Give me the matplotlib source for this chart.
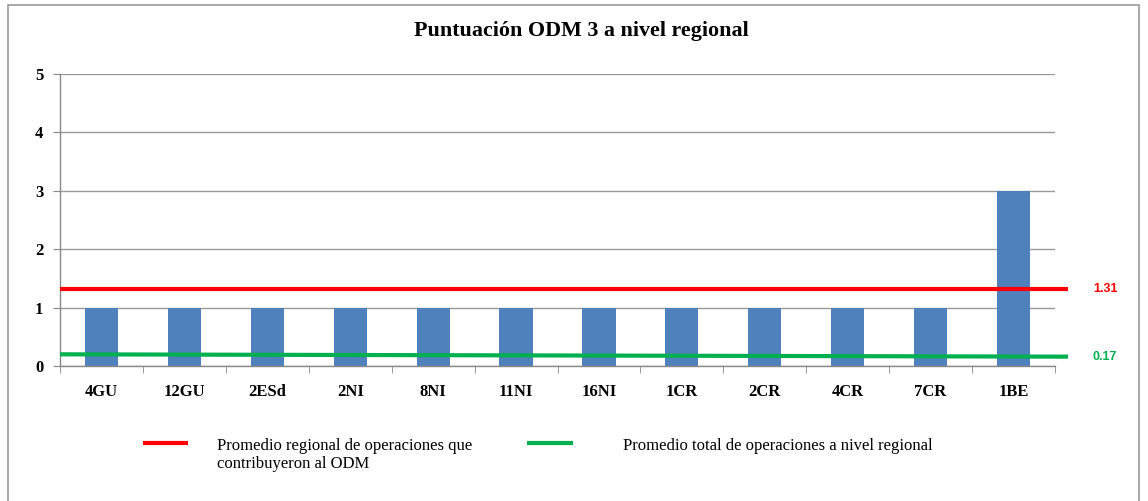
import matplotlib
matplotlib.use("Agg")
import matplotlib.pyplot as plt
import numpy as np
from matplotlib.patches import Rectangle
from matplotlib.lines import Line2D

categories = ["4GU", "12GU", "2ESd", "2NI", "8NI", "11NI", "16NI", "1CR", "2CR", "4CR", "7CR", "1BE"]
scores = [1, 1, 1, 1, 1, 1, 1, 1, 1, 1, 1, 3]
regional_avg = 1.31
total_avg_ends = [0.20, 0.16]
total_avg_label = "0.17"
title = "Puntuación ODM 3 a nivel regional"
legend_labels = ["Promedio regional de operaciones que\ncontribuyeron al ODM",
                 "Promedio total de operaciones a nivel regional"]

serif = ["Liberation Serif", "DejaVu Serif"]
sans = ["Liberation Sans", "DejaVu Sans"]

fig = plt.figure(figsize=(11.48, 5.01), dpi=100)
W, H = 1148, 501
ax = fig.add_axes([60 / W, 1 - 366 / H, (1055 - 60) / W, (366 - 74) / H])

x = np.arange(len(categories))
ax.bar(x, scores, width=0.4, color="#4F81BD", zorder=2)
ax.set_xlim(-0.5, len(categories) - 0.5)
ax.set_ylim(0, 5)
ax.set_yticks(range(6))
ax.set_yticklabels([str(i) for i in range(6)], fontfamily=serif, fontweight="bold", fontsize=12)
ax.set_xticks(x)
ax.set_xticklabels(categories, fontfamily=serif, fontweight="bold", fontsize=12)
ax.set_xticks(np.arange(-0.5, len(categories)), minor=True)
ax.tick_params(axis="x", which="major", length=0, pad=13)
ax.tick_params(axis="x", which="minor", length=5, color="#888888", direction="out")
ax.tick_params(axis="y", length=5, color="#888888", pad=7)
ax.grid(axis="y", color="#9a9a9a", linewidth=1, zorder=0)
ax.set_axisbelow(True)
for s in ["top", "right"]:
    ax.spines[s].set_visible(False)
for s in ["left", "bottom"]:
    ax.spines[s].set_color("#888888")
    ax.spines[s].set_linewidth(1)

xend = len(categories) - 0.5 + 13 / ((1055 - 60) / len(categories))
ax.plot([-0.5, xend], [regional_avg, regional_avg], color="#FF0000", linewidth=3, clip_on=False,
        zorder=3, solid_capstyle="butt")
ax.plot([-0.5, xend], total_avg_ends, color="#00B050", linewidth=3, clip_on=False, zorder=3,
        solid_capstyle="butt")
ax.text(xend + 0.3, regional_avg, f"{regional_avg:.2f}", color="#FF0000", fontweight="bold",
        fontfamily=sans, fontsize=9, va="center", ha="left")
ax.text(xend + 0.3, total_avg_ends[1], total_avg_label, color="#00B050", fontweight="bold",
        fontsize=9, fontfamily=sans, va="center", ha="left")

fig.text(581 / W, 1 - 31 / H, title, ha="center", va="center", fontfamily=serif,
         fontweight="bold", fontsize=15.8)

# legend
fig.add_artist(Line2D([143 / W, 188 / W], [1 - 443 / H] * 2, color="#FF0000", linewidth=3,
                      solid_capstyle="butt"))
fig.add_artist(Line2D([527 / W, 573 / W], [1 - 443 / H] * 2, color="#00B050", linewidth=3,
                      solid_capstyle="butt"))
fig.text(217 / W, 1 - 438 / H, legend_labels[0], ha="left", va="top", fontfamily=serif, fontsize=12,
         linespacing=1.15)
fig.text(623 / W, 1 - 438 / H, legend_labels[1], ha="left", va="top", fontfamily=serif, fontsize=12)

fig.add_artist(Rectangle((8 / W, -0.01), (1139 - 8) / W, 1 - 5 / H + 0.01, transform=fig.transFigure,
                         fill=False, edgecolor="#9a9a9a", linewidth=1.2))

fig.savefig("out.png", dpi=100)
